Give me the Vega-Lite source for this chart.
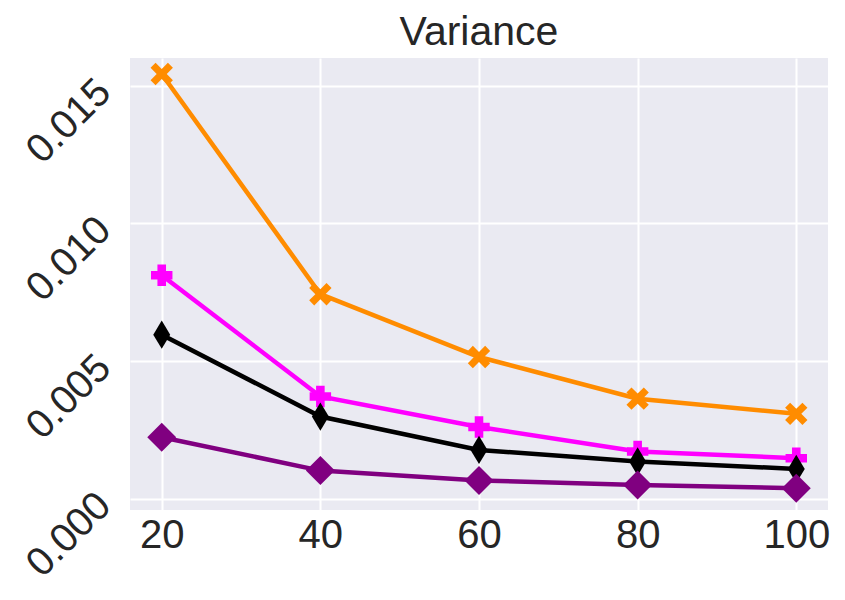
{
  "$schema": "https://vega.github.io/schema/vega-lite/v6.json",
  "autosize": "none",
  "width": 698,
  "height": 452,
  "padding": {"left": 130, "top": 58, "right": 17, "bottom": 90},
  "background": "white",
  "title": {"text": "Variance", "fontSize": 41, "font": "Liberation Sans", "fontWeight": "normal", "color": "#262626", "anchor": "middle", "baseline": "alphabetic", "offset": -28, "frame": "group"},
  "config": {
    "view": {"fill": "#EAEAF2", "stroke": null},
    "line": {"strokeWidth": 4.5},
    "axis": {
      "grid": true, "gridColor": "white", "gridWidth": 2, "domain": false, "ticks": false,
      "labelFont": "Liberation Sans", "labelFontSize": 40, "labelColor": "#262626", "title": null
    }
  },
  "data": {
    "values": [
      {"n": 20, "value": 0.01542, "series": "orange"},
      {"n": 40, "value": 0.00743, "series": "orange"},
      {"n": 60, "value": 0.00515, "series": "orange"},
      {"n": 80, "value": 0.00364, "series": "orange"},
      {"n": 100, "value": 0.00309, "series": "orange"},
      {"n": 20, "value": 0.00812, "series": "magenta"},
      {"n": 40, "value": 0.00372, "series": "magenta"},
      {"n": 60, "value": 0.00261, "series": "magenta"},
      {"n": 80, "value": 0.00172, "series": "magenta"},
      {"n": 100, "value": 0.00148, "series": "magenta"},
      {"n": 20, "value": 0.00596, "series": "black"},
      {"n": 40, "value": 0.00299, "series": "black"},
      {"n": 60, "value": 0.00178, "series": "black"},
      {"n": 80, "value": 0.00136, "series": "black"},
      {"n": 100, "value": 0.00109, "series": "black"},
      {"n": 20, "value": 0.00224, "series": "purple"},
      {"n": 40, "value": 0.00103, "series": "purple"},
      {"n": 60, "value": 0.00067, "series": "purple"},
      {"n": 80, "value": 0.00051, "series": "purple"},
      {"n": 100, "value": 0.00039, "series": "purple"}
    ]
  },
  "encoding": {
    "x": {"field": "n", "type": "quantitative", "scale": {"domain": [16, 104], "nice": false, "zero": false}, "axis": {"values": [20, 40, 60, 80, 100], "labelPadding": 5}},
    "y": {"field": "value", "type": "quantitative", "scale": {"domain": [-0.0004, 0.016], "nice": false, "zero": false}, "axis": {"values": [0, 0.005, 0.01, 0.015], "format": ".3f", "labelAngle": -45, "labelAlign": "right", "labelBaseline": "middle", "labelPadding": 26}},
    "color": {"field": "series", "type": "nominal", "scale": {"domain": ["orange", "magenta", "black", "purple"], "range": ["#FF8C00", "#FF00FF", "#000000", "#800080"]}, "legend": null}
  },
  "layer": [
    {"mark": {"type": "line", "strokeWidth": 4.5}, "encoding": {"detail": {"field": "series"}}},
    {"mark": {"type": "point", "filled": true, "opacity": 1, "strokeWidth": 0},
     "encoding": {
       "shape": {"field": "series", "type": "nominal", "scale": {"domain": ["orange", "magenta", "black", "purple"], "range": ["M-1,-0.55L-0.55,-1L0,-0.45L0.55,-1L1,-0.55L0.45,0L1,0.55L0.55,1L0,0.45L-0.55,1L-1,0.55L-0.45,0Z", "cross", "M0,-1L0.6,0L0,1L-0.6,0Z", "diamond"]}, "legend": null},
       "size": {"field": "series", "type": "nominal", "scale": {"type": "ordinal", "domain": ["orange", "magenta", "black", "purple"], "range": [500, 460, 800, 840]}, "legend": null}
     }}
  ]
}
